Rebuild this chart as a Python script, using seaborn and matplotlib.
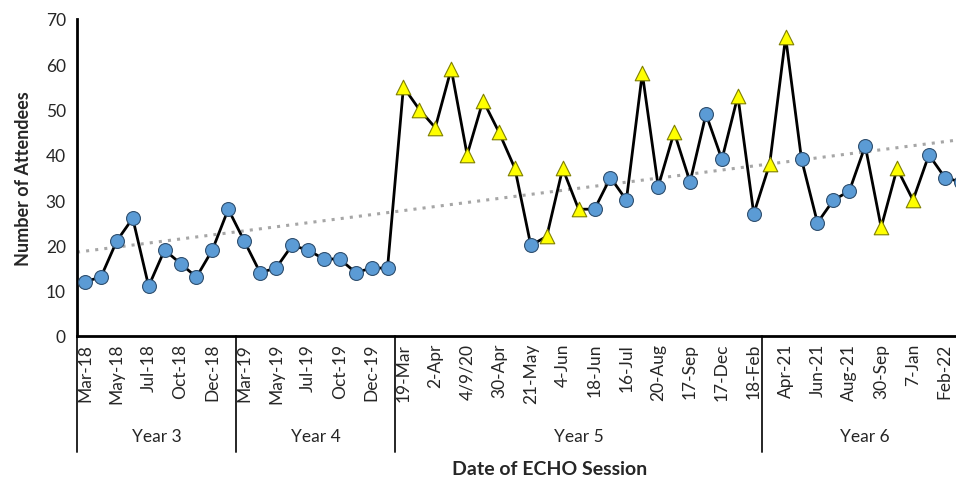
import numpy as np
import pandas as pd
import matplotlib.pyplot as plt
import seaborn as sns

# attendees per ECHO session, in order
attendees = [12, 13, 21, 26, 11, 19, 16, 13, 19, 28,
             21, 14, 15, 20, 19, 17, 17, 14, 15, 15,
             55, 50, 46, 59, 40, 52, 45, 37, 20, 22, 37, 28, 28, 35, 30, 58,
             33, 45, 34, 49, 39, 53, 27,
             38, 66, 39, 25, 30, 32, 42, 24, 37, 30, 40, 35, 34]
# 't' = triangle (yellow), 'c' = circle (blue)
marker_kind = list("cccccccccc" "cccccccccc"
                   "tttttttt" "c" "ttt" "ccc" "t" "c" "t" "ccc" "t" "c"
                   "tt" "ccccc" "ttt" "ccc")
tick_labels = ['Mar-18', 'May-18', 'Jul-18', 'Oct-18', 'Dec-18',
               'Mar-19', 'May-19', 'Jul-19', 'Oct-19', 'Dec-19',
               '19-Mar', '2-Apr', '4/9/20', '30-Apr', '21-May', '4-Jun', '18-Jun',
               '16-Jul', '20-Aug', '17-Sep', '17-Dec', '18-Feb',
               'Apr-21', 'Jun-21', 'Aug-21', '30-Sep', '7-Jan', 'Feb-22']
years = ['Year 3', 'Year 4', 'Year 5', 'Year 6']
year_counts = [10, 10, 23, 13]

df = pd.DataFrame({'session': np.arange(len(attendees)),
                   'attendees': attendees,
                   'kind': marker_kind})

sns.set_style('white')
plt.rcParams['font.family'] = ['Lato', 'DejaVu Sans']

fig = plt.figure(figsize=(9.56, 4.81), dpi=100)
ax = fig.add_axes([77 / 956, 144 / 481, 879 / 956, 317 / 481])

# linear trend
coef = np.polyfit(df['session'], df['attendees'], 1)
xs = np.array([-0.5, 56])
ax.plot(xs, np.polyval(coef, xs), linestyle=(0, (1, 2)), color='#a6a6a6', lw=2.2, zorder=1)

sns.lineplot(data=df, x='session', y='attendees', color='black', lw=2, ax=ax, zorder=2)
sns.scatterplot(data=df[df['kind'] == 'c'], x='session', y='attendees', marker='o',
                s=100, color='#5b9bd5', edgecolor='#2f4f6f', linewidth=0.8, ax=ax, zorder=3)
sns.scatterplot(data=df[df['kind'] == 't'], x='session', y='attendees', marker='^',
                s=110, color='#ffff00', edgecolor='#7f7f00', linewidth=0.8, ax=ax, zorder=3)

ax.set_xlim(-0.5, 54.7)
ax.set_ylim(0, 70)
ax.set_yticks(range(0, 71, 10))
ax.set_xticks(range(0, 55, 2))
ax.set_xticklabels(tick_labels, rotation=90, fontsize=12.5)
ax.tick_params(axis='y', labelsize=12.5, length=0, pad=8)
ax.tick_params(axis='x', length=0, pad=5)
ax.set_xlabel('')
ax.set_ylabel('Number of Attendees', fontsize=13, fontweight='bold', labelpad=10)

sns.despine(ax=ax)
for side in ['left', 'bottom']:
    ax.spines[side].set_color('black')
    ax.spines[side].set_linewidth(2)

# year groups below the axis
trans = ax.get_xaxis_transform()
start = -0.5
for name, n in zip(years, year_counts):
    ax.plot([start, start], [0, -0.365], transform=trans, color='#262626', lw=1.4, clip_on=False)
    ax.text(start + n / 2, -0.315, name, transform=trans, ha='center', va='center',
            fontsize=12.5, clip_on=False)
    start += n
ax.plot([start, start], [0, -0.365], transform=trans, color='#262626', lw=1.4, clip_on=False)

fig.text(550 / 956, 1 - 470 / 481, 'Date of ECHO Session', ha='center', va='center',
         fontsize=14, fontweight='bold')

fig.savefig('out.png', dpi=100)
